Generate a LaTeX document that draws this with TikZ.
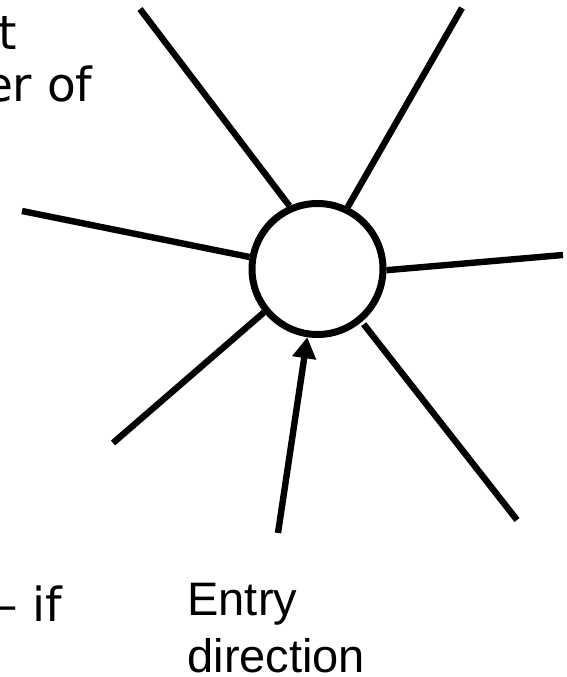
\documentclass[tikz,border=0pt]{standalone}
\usetikzlibrary{arrows.meta}
\usepackage{fontspec}
\newfontfamily\notefont{DejaVu Sans}
\newfontfamily\entryfont{Liberation Sans}

\begin{document}
\begin{tikzpicture}[x=1pt,y=1pt,line width=7pt,>={Triangle[length=21pt,width=23pt]},
    hub/.style={circle,draw,fill=white,minimum size=131pt,inner sep=0},
    spoke/.style={line width=6.4pt},
    note/.style={inner sep=0,font=\notefont\fontsize{47}{52}\selectfont},
    entry/.style={inner sep=0,align=left,font=\entryfont\fontsize{47}{57}\selectfont}]
\useasboundingbox (0,0) rectangle (566,677);
% ---------- hub and the free ends of the spokes ----------
\node[hub] (hub) at (317.5,408) {};
\coordinate (ul) at (140,668);
\coordinate (ur) at (462,669);
\coordinate (le) at (22,466);
\coordinate (ri) at (563,422);
\coordinate (ll) at (113,234);
\coordinate (lr) at (517,157);
\coordinate (tail) at (278,144);
% ---------- spokes ----------
\draw[spoke] (ul) -- (hub.114.5);
\draw[spoke] (ur) -- (hub.64);
\draw[spoke] (le) -- (hub.170);
\draw[spoke] (ri) -- (hub.-1);
\draw[spoke] (ll) -- (hub.219);
\draw[spoke,shorten >=3pt] (lr) -- (hub.-50);
\draw[spoke,->] (tail) -- (hub);
% ---------- labels (the left ones run off the edge) ----------
\node[note,anchor=base west] (t1) at (-5,627) {t};
\node[note,anchor=base east] (t2) at (96,575) {er of};
\node[note,anchor=base east] (t3) at (66,55) {– if};
\node[entry,anchor=base west] (entry) at (184,5) {Entry\\direction};
\end{tikzpicture}
\end{document}
